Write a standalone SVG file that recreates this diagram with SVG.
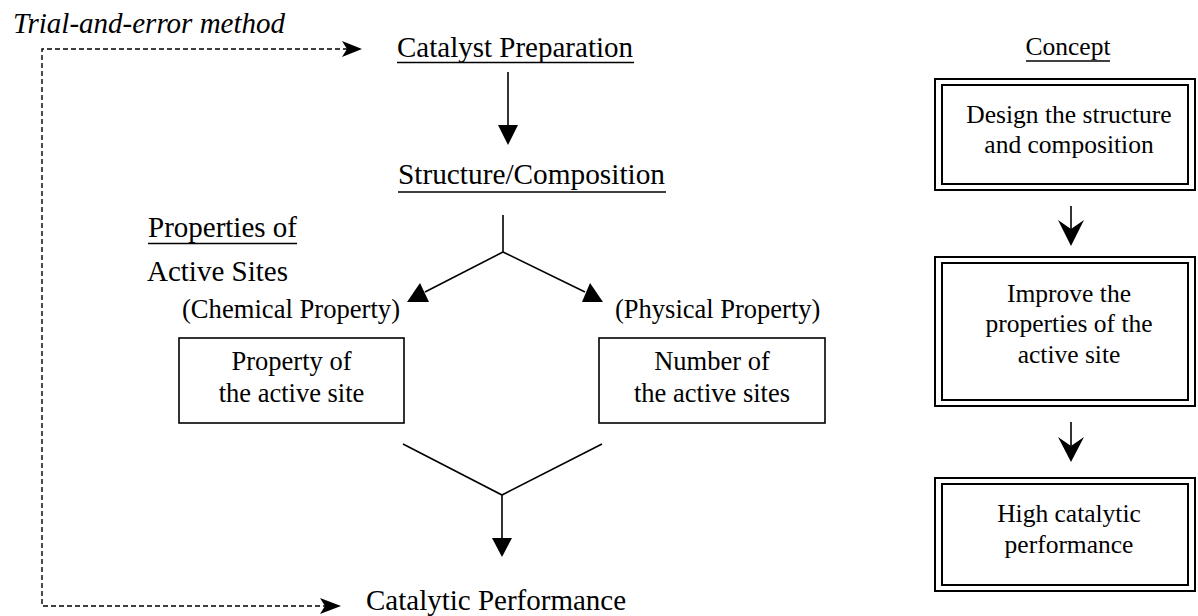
<svg xmlns="http://www.w3.org/2000/svg" width="1198" height="616" viewBox="0 0 1198 616">
<style>
text{font-family:"Liberation Serif","Times New Roman",serif;fill:#000}
.big{font-size:29px}
.mid{font-size:26.5px}
.sm{font-size:25.5px}
.c{text-anchor:middle}
.ln{stroke:#000;stroke-width:1.6;fill:none}
.dash{stroke:#000;stroke-width:1.4;fill:none;stroke-dasharray:5 3}
.box{fill:#fff;stroke:#000;stroke-width:1.6}
.dbl{fill:none;stroke:#000;stroke-width:2}
.ul{stroke:#000;stroke-width:1.5}
</style>
<g id="connectors">
  <path class="dash" d="M356 49 H42 V606 H334"/>
  <path d="M342 41 L362 49 L342 57 L347 49 Z"/>
  <path d="M320 598 L341 606 L320 614 L325 606 Z"/>
  <line class="ln" x1="508" y1="72" x2="508" y2="128"/>
  <path d="M498 125 L518 125 L508 145 Z"/>
  <path class="ln" d="M503 215 V252 M503 252 L425 292 M503 252 L585 292"/>
  <path d="M407 302 L429 302 L420 283 Z"/>
  <path d="M582 302 L603 302 L590 283 Z"/>
  <path class="ln" d="M403 444 L502 495 L602 444 M502 495 V540"/>
  <path d="M492 538 L512 538 L502 557 Z"/>
  <line class="ln" x1="1071" y1="206" x2="1071" y2="230"/>
  <path d="M1058 220 L1071 229 L1084 220 L1071 246 Z"/>
  <line class="ln" x1="1071" y1="422" x2="1071" y2="446"/>
  <path d="M1058 437 L1071 446 L1084 437 L1071 462 Z"/>
</g>
<g id="trial">
  <text x="13" y="33" class="big" font-style="italic">Trial-and-error method</text>
</g>
<g id="catalyst-preparation">
  <text x="397" y="57" class="big" textLength="236" lengthAdjust="spacingAndGlyphs">Catalyst Preparation</text>
  <line class="ul" x1="397" y1="62.5" x2="634" y2="62.5"/>
</g>
<g id="structure">
  <text x="398" y="184" class="big" textLength="267" lengthAdjust="spacingAndGlyphs">Structure/Composition</text>
  <line class="ul" x1="398" y1="192" x2="666" y2="192"/>
</g>
<g id="properties-label">
  <text x="148" y="237" class="big">Properties of</text>
  <line class="ul" x1="148" y1="243.5" x2="297" y2="243.5"/>
  <text x="147" y="281" class="big">Active Sites</text>
</g>
<g id="chemical">
  <text x="182" y="318" class="mid" textLength="218" lengthAdjust="spacingAndGlyphs">(Chemical Property)</text>
  <rect class="box" x="179" y="338" width="225" height="85"/>
  <text x="291.5" y="370" class="mid c">Property of</text>
  <text x="291.5" y="402" class="mid c">the active site</text>
</g>
<g id="physical">
  <text x="615" y="318" class="mid">(Physical Property)</text>
  <rect class="box" x="599" y="338" width="226" height="85"/>
  <text x="712" y="370" class="mid c">Number of</text>
  <text x="712" y="402" class="mid c">the active sites</text>
</g>
<g id="catalytic-performance">
  <text x="366" y="610" class="big">Catalytic Performance</text>
</g>
<g id="concept">
  <text x="1068" y="55" class="sm c">Concept</text>
  <line class="ul" x1="1026" y1="61" x2="1110" y2="61"/>
</g>
<g id="design">
  <rect class="dbl" x="935" y="79" width="260" height="111"/>
  <rect class="dbl" x="942" y="85" width="246" height="99"/>
  <text x="1069" y="123" class="sm c">Design the structure</text>
  <text x="1069" y="153" class="sm c">and composition</text>
</g>
<g id="improve">
  <rect class="dbl" x="935" y="257" width="260" height="149"/>
  <rect class="dbl" x="942" y="263" width="246" height="137"/>
  <text x="1069" y="302" class="sm c">Improve the</text>
  <text x="1069" y="332" class="sm c">properties of the</text>
  <text x="1069" y="363" class="sm c">active site</text>
</g>
<g id="high">
  <rect class="dbl" x="935" y="478" width="260" height="113"/>
  <rect class="dbl" x="942" y="484" width="246" height="101"/>
  <text x="1069" y="522" class="sm c">High catalytic</text>
  <text x="1069" y="553" class="sm c">performance</text>
</g>
</svg>
